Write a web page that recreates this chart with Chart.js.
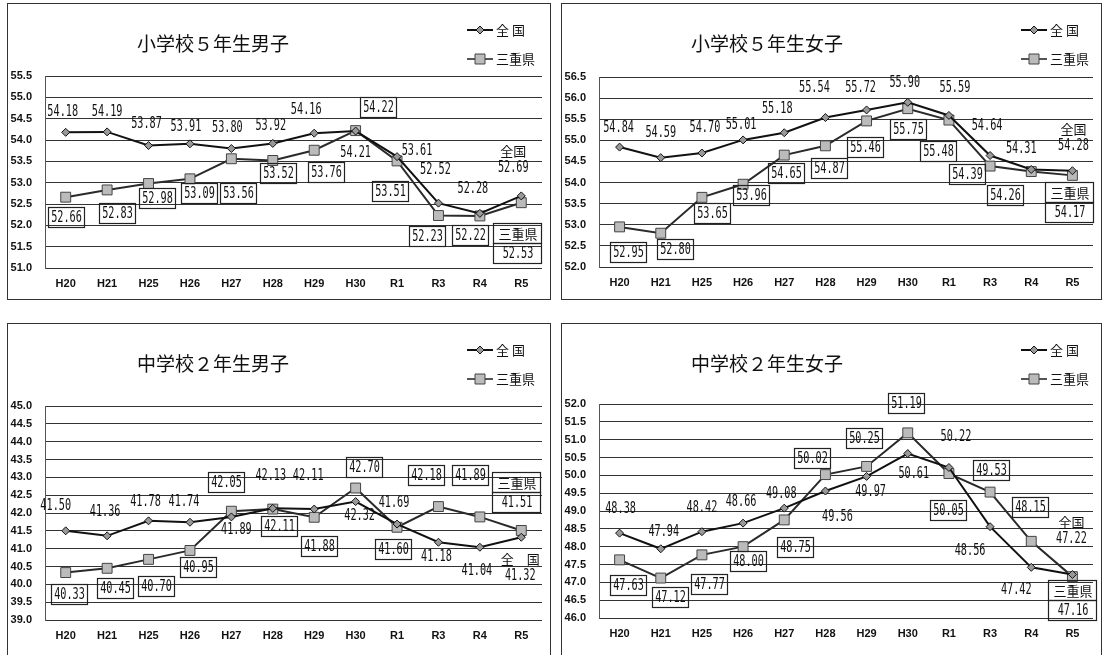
<!DOCTYPE html>
<html>
<head>
<meta charset="utf-8">
<script src="https://cdn.jsdelivr.net/npm/chart.js@4.4.1/dist/chart.umd.min.js"></script>
<style>
    body { margin: 0; background: #fff; width: 1102px; height: 655px; overflow: hidden; position: relative; }
    .panel { position: absolute; border: 1px solid #333; background: #fff; }
</style>
</head>
<body>
<div class="panel" style="left:7px;top:3px;width:542px;height:295px;"><canvas id="boys5Chart"></canvas></div>
<div class="panel" style="left:561px;top:3px;width:539px;height:295px;"><canvas id="girls5Chart"></canvas></div>
<div class="panel" style="left:7px;top:323px;width:542px;height:340px;"><canvas id="boys2Chart"></canvas></div>
<div class="panel" style="left:561px;top:323px;width:539px;height:340px;"><canvas id="girls2Chart"></canvas></div>

<script>
// data (体力合計点)
const years = ['H20', 'H21', 'H25', 'H26', 'H27', 'H28', 'H29', 'H30', 'R1', 'R3', 'R4', 'R5'];

const boys5Zenkoku = [54.18, 54.19, 53.87, 53.91, 53.80, 53.92, 54.16, 54.21, 53.61, 52.52, 52.28, 52.69];
const boys5Mie     = [52.66, 52.83, 52.98, 53.09, 53.56, 53.52, 53.76, 54.22, 53.51, 52.23, 52.22, 52.53];

const girls5Zenkoku = [54.84, 54.59, 54.70, 55.01, 55.18, 55.54, 55.72, 55.90, 55.59, 54.64, 54.31, 54.28];
const girls5Mie     = [52.95, 52.80, 53.65, 53.96, 54.65, 54.87, 55.46, 55.75, 55.48, 54.39, 54.26, 54.17];

const boys2Zenkoku = [41.50, 41.36, 41.78, 41.74, 41.89, 42.13, 42.11, 42.32, 41.69, 41.18, 41.04, 41.32];
const boys2Mie     = [40.33, 40.45, 40.70, 40.95, 42.05, 42.11, 41.88, 42.70, 41.60, 42.18, 41.89, 41.51];

const girls2Zenkoku = [48.38, 47.94, 48.42, 48.66, 49.08, 49.56, 49.97, 50.61, 50.22, 48.56, 47.42, 47.22];
const girls2Mie     = [47.63, 47.12, 47.77, 48.00, 48.75, 50.02, 50.25, 51.19, 50.05, 49.53, 48.15, 47.16];

const charts = {};
const NUM_FONT = '15px "DejaVu Sans Mono"';
const JP_FONT = '"Noto Sans CJK JP"';

// label offsets (px from the point) - placement only
const boys5ZenOff = [[-3,-20],[0,-20],[-2,-21],[-4,-17],[-4,-20],[-2,-17],[-8,-23],[0,22],[20,-6],[-3,-33],[-7,-24],[-8,-37]];
const boys5MieOff = [[0,20],[10,23],[8,14],[9,14],[7,34],[5,13],[12,22],[22,-24],[-7,30],[-11,20],[-10,19],[-3,40]];
const girls5ZenOff = [[-1,-19],[0,-25],[3,-25],[-2,-15],[-7,-24],[-11,-29],[-6,-22],[-3,-19],[6,-27],[-3,-29],[-10,-20],[1,-34]];
const girls5MieOff = [[8,25],[14,16],[10,16],[8,11],[2,18],[4,22],[-2,26],[0,20],[-11,31],[-23,8],[-26,23],[-2,27]];
const boys2ZenOff = [[-10,-25],[-2,-24],[-3,-19],[-6,-20],[5,13],[-2,-32],[-6,-33],[4,15],[-3,-21],[-2,15],[-3,24],[-1,30]];
const boys2MieOff = [[3,21],[8,20],[7,27],[8,17],[-5,-29],[6,17],[5,29],[8,-21],[-4,22],[-12,-32],[-10,-42],[-4,-38]];
const girls2ZenOff = [[1,-24],[3,-17],[0,-24],[-2,-21],[-3,-14],[12,26],[4,16],[6,21],[7,-30],[-20,24],[-15,23],[-1,-44]];
const girls2MieOff = [[8,25],[9,19],[7,29],[5,14],[11,27],[-13,-17],[-3,-28],[-2,-30],[-1,36],[1,-22],[-1,-34],[1,23]];

function drawNum(c, txt, x, y) {
    c.save();
    c.translate(x, y);
    c.scale(0.68, 1);
    c.font = NUM_FONT;
    c.fillText(txt, 0, 0);
    c.restore();
}

function drawMarker(c, type, x, y) {
    c.save();
    c.lineWidth = 1;
    c.beginPath();
    if (type === 'diamond') {
        c.moveTo(x, y - 4); c.lineTo(x + 4, y); c.lineTo(x, y + 4); c.lineTo(x - 4, y); c.closePath();
        c.fillStyle = '#999'; c.strokeStyle = '#111';
    } else {
        c.rect(x - 5, y - 5, 10, 10);
        c.fillStyle = '#bbb'; c.strokeStyle = '#444';
    }
    c.fill(); c.stroke();
    c.restore();
}

const panelLabels = {
    id: 'panelLabels',
    afterDatasetsDraw(chart) {
        const o = chart.options.plugins.panelLabels;
        const c = chart.ctx;
        c.save();
        c.fillStyle = '#111';
        c.strokeStyle = '#222';
        c.textAlign = 'center';
        c.textBaseline = 'middle';

        // title
        c.font = '19px ' + JP_FONT;
        c.fillText(o.title, 205, 40);

        // legend
        [['全 国', 'diamond', 26], ['三重県', 'square', 55]].forEach(([name, type, ly]) => {
            c.lineWidth = 2;
            c.strokeStyle = type === 'diamond' ? '#111' : '#555';
            c.beginPath(); c.moveTo(459, ly); c.lineTo(485, ly); c.stroke();
            drawMarker(c, type, 472, ly);
            c.fillStyle = '#111';
            c.textAlign = 'left';
            c.font = '13px ' + JP_FONT;
            c.fillText(name, 488, ly);
        });
        c.textAlign = 'center';

        // 全国 labels (no box)
        const zenPts = chart.getDatasetMeta(0).data;
        const zenVals = chart.data.datasets[0].data;
        zenPts.forEach((pt, i) => {
            const [dx, dy] = o.zenOff[i];
            const x = pt.x + dx, y = pt.y + dy;
            if (i === zenPts.length - 1) {
                c.font = '13px ' + JP_FONT;
                c.fillText(o.zenEnd, x, y - 8);
                drawNum(c, zenVals[i].toFixed(2), x, y + 9);
            } else {
                drawNum(c, zenVals[i].toFixed(2), x, y);
            }
        });

        // 三重県 labels (boxed)
        const miePts = chart.getDatasetMeta(1).data;
        const mieVals = chart.data.datasets[1].data;
        c.lineWidth = 1.2;
        c.strokeStyle = '#222';
        miePts.forEach((pt, i) => {
            const [dx, dy] = o.mieOff[i];
            const x = Math.round(pt.x + dx), y = Math.round(pt.y + dy);
            if (i === miePts.length - 1) {
                c.strokeRect(x - 24.5, y - 19.5, 48, 20);
                c.strokeRect(x - 24.5, y + 0.5, 48, 20);
                c.font = '13px ' + JP_FONT;
                c.fillText('三重県', x, y - 9);
                drawNum(c, mieVals[i].toFixed(2), x, y + 11);
            } else {
                c.strokeRect(x - 17.5, y - 9.5, 36, 20);
                drawNum(c, mieVals[i].toFixed(2), x + 0.5, y + 1);
            }
        });
        c.restore();
    }
};

function createPanelChart(id, cfg) {
    const ctx = document.getElementById(id).getContext('2d');
    if (charts[id]) charts[id].destroy();

    const h = ctx.canvas.parentNode.clientHeight;

    charts[id] = new Chart(ctx, {
        type: 'line',
        data: {
            labels: years,
            datasets: [{
                label: '全 国',
                data: cfg.zen,
                borderColor: '#111',
                borderWidth: 2,
                pointStyle: 'rectRot',
                pointRadius: 4,
                pointBackgroundColor: '#999',
                pointBorderColor: '#111',
                pointBorderWidth: 1,
                tension: 0
            }, {
                label: '三重県',
                data: cfg.mie,
                borderColor: '#2a2a2a',
                borderWidth: 2,
                pointStyle: 'rect',
                pointRadius: 7,
                pointBackgroundColor: '#bbb',
                pointBorderColor: '#444',
                pointBorderWidth: 1,
                tension: 0
            }]
        },
        options: {
            responsive: true,
            maintainAspectRatio: false,
            animation: false,
            layout: {
                padding: { top: cfg.top, right: cfg.right, bottom: 0, left: 0 }
            },
            scales: {
                x: {
                    offset: true,
                    grid: { display: false, drawTicks: false },
                    border: { display: false },
                    ticks: {
                        color: '#111',
                        padding: 9,
                        font: { family: 'Liberation Sans', size: 11, weight: 'bold' }
                    },
                    afterFit: s => { s.height = h - cfg.bottom; }
                },
                y: {
                    min: cfg.min,
                    max: cfg.max,
                    grid: { color: '#333', lineWidth: 1, drawTicks: false },
                    border: { display: true, color: '#555', width: 1 },
                    ticks: {
                        stepSize: 0.5,
                        color: '#111',
                        padding: 13,
                        font: { family: 'Liberation Sans', size: 11, weight: 'bold' },
                        callback: v => v.toFixed(1)
                    },
                    afterFit: s => { s.width = 37; }
                }
            },
            plugins: {
                legend: { display: false },
                tooltip: { enabled: false },
                panelLabels: {
                    title: cfg.title,
                    zenEnd: cfg.zenEnd,
                    zenOff: cfg.zenOff,
                    mieOff: cfg.mieOff
                }
            }
        },
        plugins: [panelLabels]
    });
}

createPanelChart('boys5Chart', {
    title: '小学校５年生男子', zen: boys5Zenkoku, mie: boys5Mie, min: 51, max: 55.5,
    top: 72, bottom: 264, right: 7, zenEnd: '全国', zenOff: boys5ZenOff, mieOff: boys5MieOff
});
createPanelChart('girls5Chart', {
    title: '小学校５年生女子', zen: girls5Zenkoku, mie: girls5Mie, min: 52, max: 56.5,
    top: 73, bottom: 263, right: 4, zenEnd: '全国', zenOff: girls5ZenOff, mieOff: girls5MieOff
});
createPanelChart('boys2Chart', {
    title: '中学校２年生男子', zen: boys2Zenkoku, mie: boys2Mie, min: 39, max: 45,
    top: 82, bottom: 296, right: 7, zenEnd: '全　国', zenOff: boys2ZenOff, mieOff: boys2MieOff
});
createPanelChart('girls2Chart', {
    title: '中学校２年生女子', zen: girls2Zenkoku, mie: girls2Mie, min: 46, max: 52,
    top: 80, bottom: 294, right: 4, zenEnd: '全国', zenOff: girls2ZenOff, mieOff: girls2MieOff
});
</script>
</body>
</html>
